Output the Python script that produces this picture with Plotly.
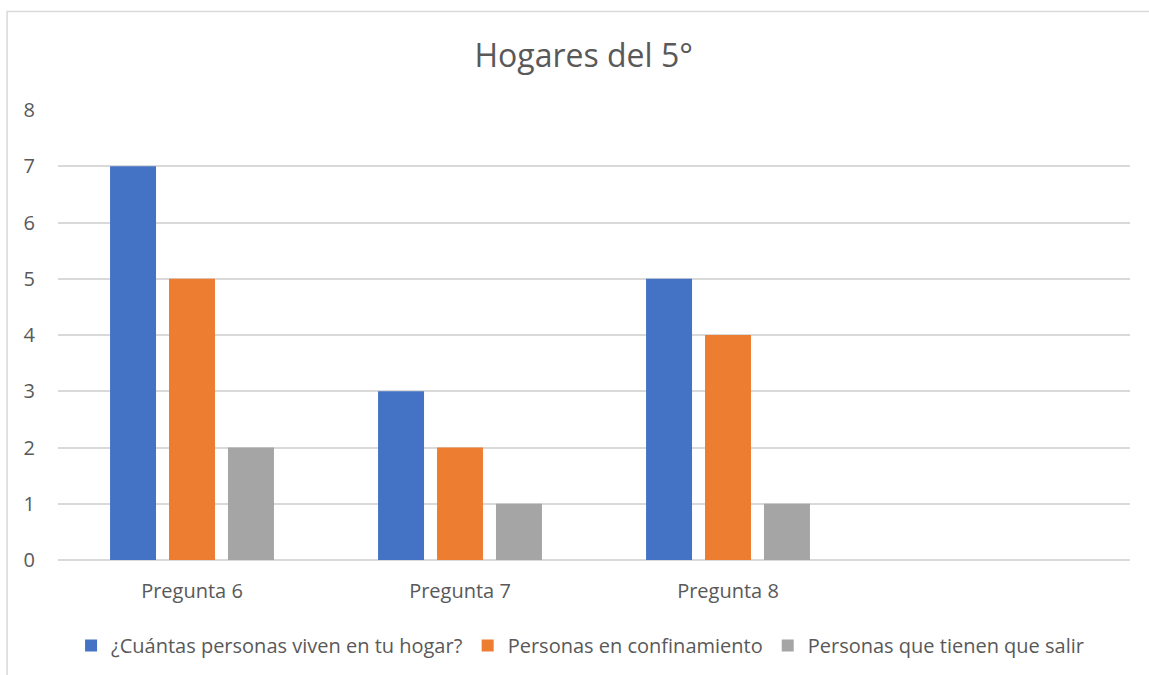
import plotly.graph_objects as go

categories = ["Pregunta 6", "Pregunta 7", "Pregunta 8"]
series_names = [
    "¿Cuántas personas viven en tu hogar?",
    "Personas en confinamiento",
    "Personas que tienen que salir",
]
viven = [7, 3, 5]
confinamiento = [5, 2, 4]
salir = [2, 1, 1]
colors = ["#4472C4", "#ED7D31", "#A5A5A5"]

FONT = "Open Sans, Noto Sans, sans-serif"
GREY = "#595959"

fig = go.Figure()
for name, values, color in zip(series_names, [viven, confinamiento, salir], colors):
    fig.add_trace(go.Bar(
        x=categories,
        y=values,
        name=name,
        marker=dict(color=color, line=dict(width=0)),
    ))

fig.update_layout(
    width=1149,
    height=675,
    barmode="group",
    bargap=0.34,
    bargroupgap=0.22,
    paper_bgcolor="white",
    plot_bgcolor="white",
    margin=dict(l=58, r=19, t=110, b=115, autoexpand=False),
    font=dict(family=FONT, color=GREY, size=20),
    title=dict(
        text="Hogares del 5°",
        x=0.508,
        xanchor="center",
        y=0.918,
        yanchor="middle",
        font=dict(size=32, color=GREY, family=FONT),
    ),
    xaxis=dict(
        type="category",
        range=[-0.5, 3.5],
        showgrid=False,
        showline=False,
        ticks="",
        ticklabelstandoff=17,
        tickfont=dict(size=20, color=GREY),
        fixedrange=True,
    ),
    yaxis=dict(
        range=[0, 8],
        dtick=1,
        showgrid=True,
        gridcolor="#D9D9D9",
        gridwidth=1.5,
        zeroline=True,
        zerolinecolor="#D9D9D9",
        zerolinewidth=1.5,
        showline=False,
        ticks="",
        ticklabelstandoff=22,
        tickfont=dict(size=20, color=GREY),
    ),
    legend=dict(
        orientation="h",
        xanchor="center",
        x=0.487,
        yanchor="middle",
        y=-0.19,
        font=dict(size=20, color=GREY),
        itemwidth=30,
        tracegroupgap=0,
    ),
    shapes=[
        dict(
            type="rect",
            xref="paper",
            yref="paper",
            x0=-0.0475,
            x1=1.05,
            y0=-0.35,
            y1=1.219,
            line=dict(color="#D9D9D9", width=1.5),
            fillcolor="rgba(0,0,0,0)",
            layer="below",
        )
    ],
)

fig.write_html(
    "out.html",
    config={"displayModeBar": False},
    post_script="document.body.style.margin='0';",
)
